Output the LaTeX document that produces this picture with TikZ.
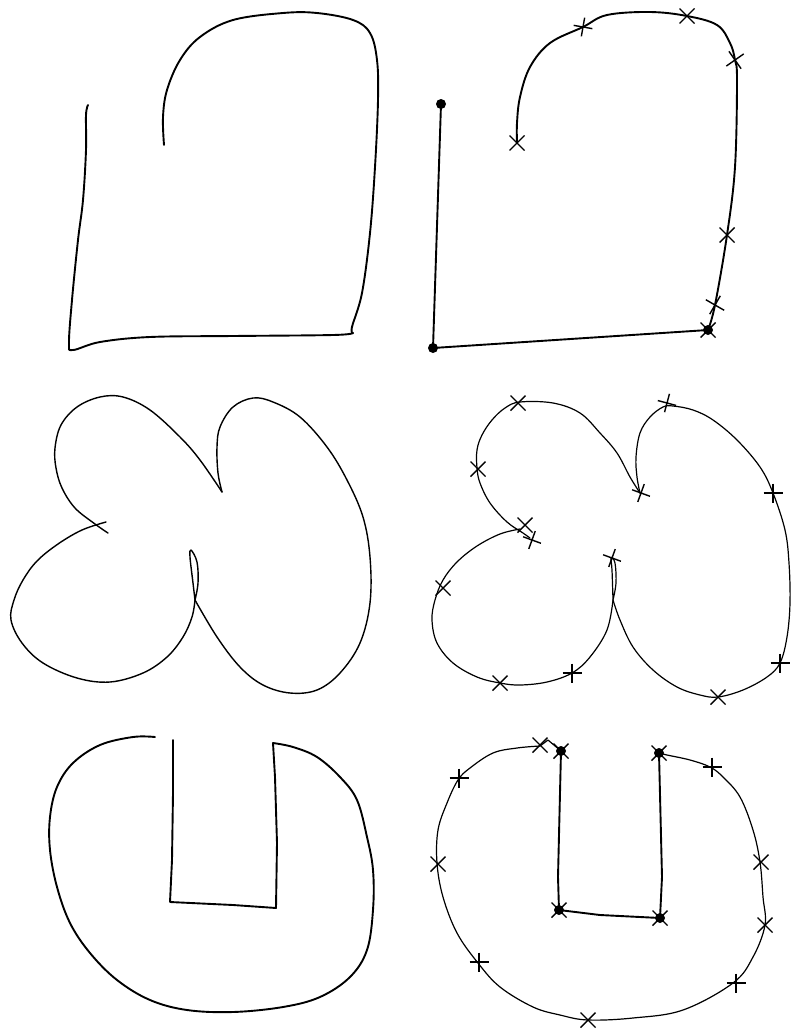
\documentclass[tikz,border=0pt]{standalone}
\begin{document}
\begin{tikzpicture}[x=1pt,y=-1pt,
  stroke/.style={line width=#1, line join=round, line cap=round},
  sm/.style={smooth, tension=0.6},
  xm/.pic={\draw[line width=1.4pt] (-7.5,-7.5)--(7.5,7.5) (-7.5,7.5)--(7.5,-7.5);},
  pm/.pic={\draw[line width=1.4pt] (-9.5,0)--(9.5,0) (0,-9.5)--(0,9.5);},
  dotm/.style={fill=black, circle, inner sep=0pt, minimum size=10pt}]
\useasboundingbox (0,0) rectangle (792,1034);

% ---------- Panel 1 ----------
\draw[stroke=1.9pt] plot[sm] coordinates {(88,105) (86,115) (86,150) (83,200) (78,240) (72,300) (69,343) (73,350) (100,342) (150,337) (233,336) (333,335) (353,333)};
\draw[stroke=1.9pt] plot[sm] coordinates {(353,333) (352,327) (362,293) (370,233) (375,167) (378,100) (377,60) (370,33) (353,20) (317,13) (283,13) (233,20) (200,37) (180,60) (167,90) (163,117) (164,145)};

% ---------- Panel 2 ----------
\node[dotm] (a1) at (441,104) {};
\node[dotm] (a2) at (433,348) {};
\node[dotm] (a3) at (708,330) {};
\draw[stroke=1.9pt] (a1.center) -- (a2.center) -- (a3.center);
\draw[stroke=1.9pt] plot[sm] coordinates {(708,330) (715,305) (727,235) (735,167) (737,80) (735,60) (730,43) (717,25) (687,16) (650,12) (607,15) (583,27) (550,43) (530,67) (520,97) (517,123) (517,143)};
\path (517,143) pic {xm} (583,27) pic[rotate=-10] {pm} (687,16) pic {xm}
      (735,60) pic[rotate=-10] {xm} (727,235) pic {xm} (715,305) pic[rotate=15] {xm} (708,330) pic {xm};

% ---------- Panel 3 ----------
\draw[stroke=1.4pt] plot[sm] coordinates {(108,533) (95,524) (75,508) (62,488) (56,468) (55,448) (61,425) (77,407) (100,397) (123,397) (150,410) (180,437) (200,460) (222,492)};
\draw[stroke=1.4pt] plot[sm] coordinates {(222,492) (218,473) (217,447) (220,427) (233,407) (253,398) (273,402) (300,417) (327,447) (347,480) (363,517) (370,557) (370,603) (360,643) (340,673) (317,690) (290,693) (263,685) (240,667) (217,637) (195,600)};
\draw[stroke=1.4pt] plot[sm] coordinates {(195,600) (193,583) (190,557) (191,550) (197,562) (198,583) (195,600)};
\draw[stroke=1.4pt] plot[sm] coordinates {(195,600) (192,617) (183,637) (167,657) (143,673) (110,682) (77,678) (43,663) (22,643) (11,620) (14,600) (23,580) (37,561) (58,544) (82,530) (106,522)};

% ---------- Panel 4 ----------
\draw[stroke=1.2pt] plot[sm] coordinates {(530,538) (523,533) (507,522) (490,503) (480,483) (477,468) (477,450) (482,435) (492,420) (505,408) (520,402) (553,403) (580,413) (600,433) (617,453) (630,477) (640,493)};
\draw[stroke=1.2pt] plot[sm] coordinates {(640,493) (637,477) (636,457) (640,433) (650,417) (663,407) (673,406) (693,410) (713,420) (737,440) (760,467) (773,493) (785,530) (789,563) (790,603) (787,637) (780,663) (767,677) (743,690) (718,697) (700,695) (677,687) (653,670) (633,647) (620,620) (613,600)};
\draw[stroke=1.2pt] plot[sm] coordinates {(613,600) (612,570) (611,558) (615,563) (616,583) (613,600)};
\draw[stroke=1.2pt] plot[sm] coordinates {(613,600) (607,630) (590,657) (572,673) (547,682) (520,685) (500,683) (477,677) (453,663) (437,643) (432,620) (435,600) (443,580) (457,562) (477,546) (500,534) (520,529)};
\path (518,403) pic {xm} (478,469) pic {xm} (525,525) pic {xm} (532,540) pic[rotate=-20] {pm}
      (443,588) pic {xm} (500,683) pic {xm} (572,673) pic {pm} (612,558) pic[rotate=-20] {pm}
      (667,403) pic[rotate=-15] {pm} (641,493) pic[rotate=-20] {pm} (773,493) pic {pm}
      (780,663) pic {pm} (718,697) pic {xm};

% ---------- Panel 5 ----------
\draw[stroke=1.9pt] plot[sm] coordinates {(155,737) (133,737) (100,745) (73,763) (57,787) (50,817) (50,850) (57,887) (70,923) (90,953) (117,980) (150,1000) (187,1010) (233,1012) (283,1007) (320,997) (350,977) (367,950) (373,910) (373,870) (367,837) (357,800) (340,777) (317,757) (293,747) (273,743)};
\draw[stroke=1.9pt] (273,743) -- (275,777) -- (277,843) -- (276,908) -- (233,905) -- (170,902) -- (172,860) -- (173,793) -- (173,740);

% ---------- Panel 6 ----------
\node[dotm] (b1) at (561,751) {};
\node[dotm] (b2) at (659,753) {};
\node[dotm] (b3) at (559,910) {};
\node[dotm] (b4) at (660,918) {};
\draw[stroke=1.9pt] (b2.center) -- (662,877) -- (b4.center) -- (600,915) -- (b3.center) -- (558,877) -- (b1.center);
\draw[stroke=1.2pt] (b1.center) -- (548,740) -- (540,746);
\draw[stroke=1.2pt] plot[sm] coordinates {(540,746) (517,748) (493,753) (470,768) (458,780) (447,803) (438,830) (437,863) (443,897) (457,933) (478,963) (500,987) (533,1007) (560,1015) (588,1020) (633,1018) (683,1010) (733,983) (753,957) (765,925) (763,897) (760,862) (753,830) (740,797) (723,777) (710,767) (690,760) (667,755) (659,753)};
\path (540,745) pic {xm} (561,751) pic {xm} (459,778) pic {pm} (438,864) pic {xm}
      (479,962) pic {pm} (588,1020) pic {xm} (736,983) pic {pm} (765,925) pic {xm}
      (761,862) pic {xm} (712,767) pic {pm} (659,753) pic {xm} (559,910) pic {xm} (660,918) pic {xm};
\end{tikzpicture}
\end{document}
